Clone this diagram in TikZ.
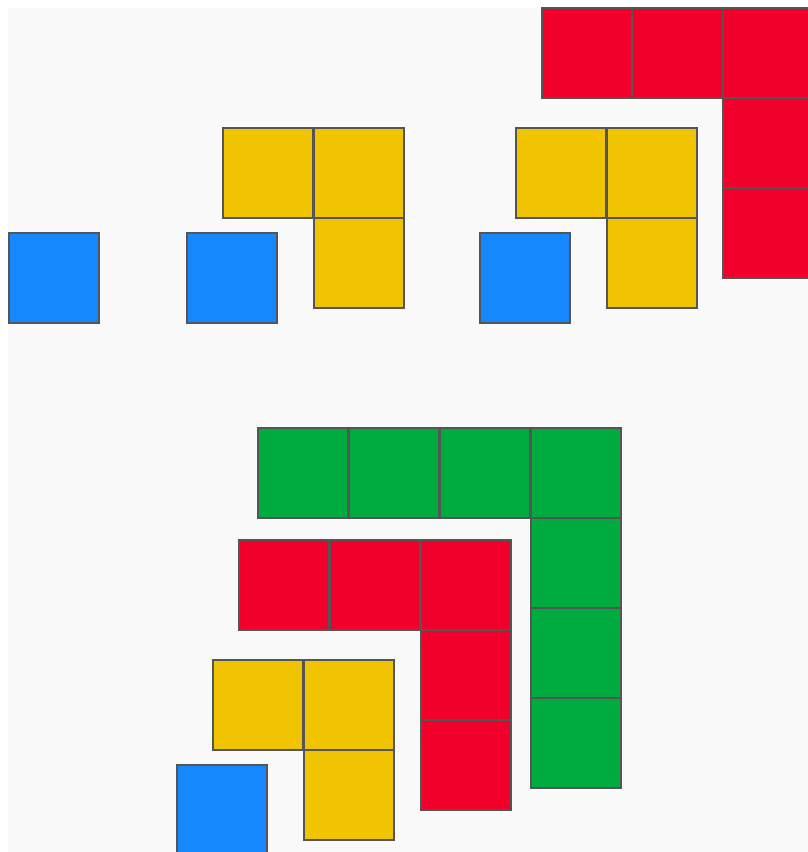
\documentclass[tikz,border=0pt]{standalone}
\definecolor{bg}{HTML}{F9F9F9}
\definecolor{edge}{HTML}{555555}
\definecolor{cred}{HTML}{F0002A}
\definecolor{cyel}{HTML}{F0C400}
\definecolor{cblue}{HTML}{1688FF}
\definecolor{cgreen}{HTML}{00AC40}
\tikzset{
  cell/.style={draw=edge, line width=1.2pt, minimum size=90pt, inner sep=0pt, outer sep=0pt, anchor=north west},
  red/.style={cell, fill=cred},
  yel/.style={cell, fill=cyel},
  blu/.style={cell, fill=cblue},
  grn/.style={cell, fill=cgreen}
}
\begin{document}
\begin{tikzpicture}[x=1pt,y=-1pt]
\useasboundingbox (0,0) rectangle (808,852);
\clip (0,0) rectangle (808,852);
\fill[bg] (8,8) rectangle (808,852);
% top right red L
\node[red] (r1) at (542,8) {};
\node[red] (r2) at (632.5,8) {};
\node[red] (r3) at (723,8) {};
\node[red] (r4) at (723,98) {};
\node[red] (r5) at (723,188) {};
% blue singles
\node[blu] (b1) at (9,233) {};
\node[blu] (b2) at (187,233) {};
\node[blu] (b3) at (480,233) {};
% yellow groups
\node[yel] (y1) at (223,128) {};
\node[yel] (y2) at (314,128) {};
\node[yel] (y3) at (314,218) {};
\node[yel] (y4) at (516,128) {};
\node[yel] (y5) at (607,128) {};
\node[yel] (y6) at (607,218) {};
% bottom green
\node[grn] (g1) at (258,428) {};
\node[grn] (g2) at (349,428) {};
\node[grn] (g3) at (440,428) {};
\node[grn] (g4) at (531,428) {};
\node[grn] (g5) at (531,518) {};
\node[grn] (g6) at (531,608) {};
\node[grn] (g7) at (531,698) {};
% bottom red
\node[red] (r6) at (239,540) {};
\node[red] (r7) at (330,540) {};
\node[red] (r8) at (421,540) {};
\node[red] (r9) at (421,630) {};
\node[red] (r10) at (421,720) {};
% bottom yellow
\node[yel] (y7) at (213,660) {};
\node[yel] (y8) at (304,660) {};
\node[yel] (y9) at (304,750) {};
% bottom blue
\node[blu] (b4) at (177,765) {};
\end{tikzpicture}
\end{document}
